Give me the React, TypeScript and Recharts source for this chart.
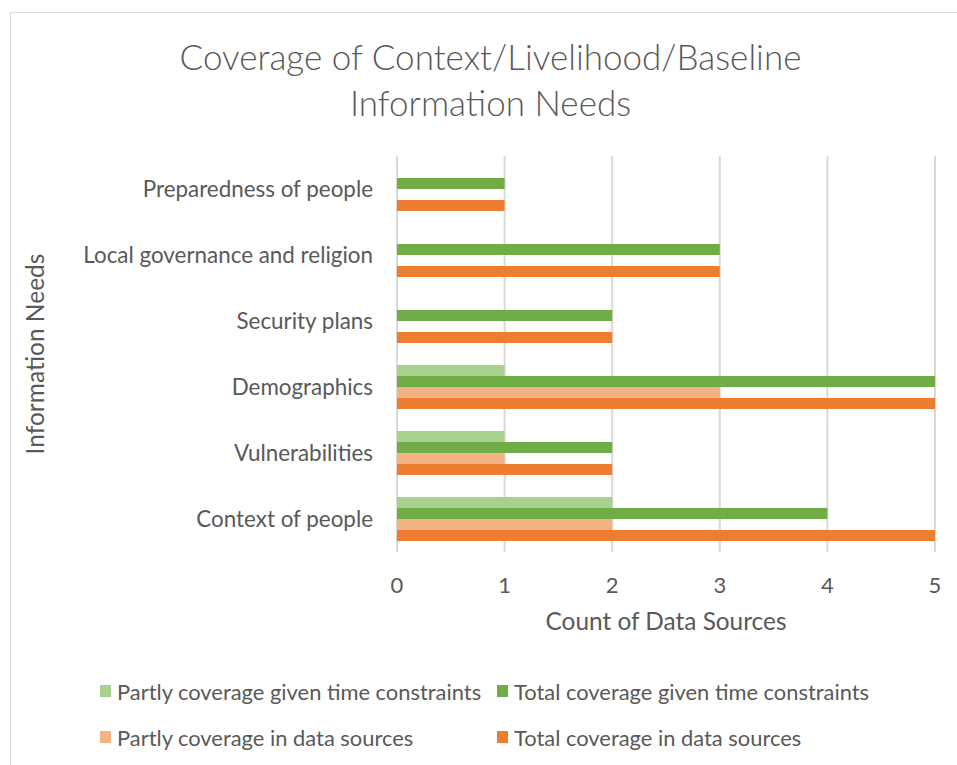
import { BarChart, Bar, XAxis, YAxis, CartesianGrid } from 'recharts';

// information needs, listed top to bottom
const needs = [
  'Preparedness of people',
  'Local governance and religion',
  'Security plans',
  'Demographics',
  'Vulnerabilities',
  'Context of people',
];

// count of data sources per need
const partlyTime = [0, 0, 0, 1, 1, 2];
const totalTime = [1, 3, 2, 5, 2, 4];
const partlySources = [0, 0, 0, 3, 1, 2];
const totalSources = [1, 3, 2, 5, 2, 5];

const countTicks = [0, 1, 2, 3, 4, 5];

const series = [
  { key: 'partlyTime', name: 'Partly coverage given time constraints', color: '#A9D18E' },
  { key: 'totalTime', name: 'Total coverage given time constraints', color: '#70AD47' },
  { key: 'partlySources', name: 'Partly coverage in data sources', color: '#F4B183' },
  { key: 'totalSources', name: 'Total coverage in data sources', color: '#ED7D31' },
];

const FONT = 'Lato, "Open Sans", sans-serif';
const TEXT = '#595959';

export default function App() {
  const data = needs.map((need, i) => ({
    need,
    partlyTime: partlyTime[i],
    totalTime: totalTime[i],
    partlySources: partlySources[i],
    totalSources: totalSources[i],
  }));

  return (
    <div
      style={{
        position: 'absolute',
        left: 0,
        top: 0,
        width: 957,
        height: 765,
        overflow: 'hidden',
        background: '#fff',
        fontFamily: FONT,
      }}
    >
      {/* chart frame, runs off the right and bottom edges */}
      <div
        style={{
          position: 'absolute',
          left: 10,
          top: 12,
          width: 1000,
          height: 800,
          border: '1.5px solid #D9D9D9',
        }}
      />

      <div
        style={{
          position: 'absolute',
          left: 0,
          top: 33,
          width: 981,
          textAlign: 'center',
          fontSize: 35,
          fontWeight: 300,
          lineHeight: '46px',
          color: TEXT,
        }}
      >
        Coverage of Context/Livelihood/Baseline
        <br />
        Information Needs
      </div>

      <div style={{ position: 'absolute', left: 0, top: 0 }}>
        <BarChart
          width={957}
          height={765}
          data={data}
          layout="vertical"
          margin={{ top: 156, right: 22, bottom: 123, left: 0 }}
          barCategoryGap={11}
          barGap={0}
        >
          <CartesianGrid horizontal={false} stroke="#D9D9D9" strokeWidth={2} />
          <XAxis
            type="number"
            domain={[0, 5]}
            ticks={countTicks}
            axisLine={false}
            tickLine={false}
            tickSize={0}
            tickMargin={25}
            height={90}
            tick={{ fill: TEXT, fontSize: 22, fontFamily: FONT }}
            label={{
              value: 'Count of Data Sources',
              position: 'insideBottom',
              offset: 12,
              style: { fill: TEXT, fontSize: 24.4, fontFamily: FONT },
            }}
          />
          <YAxis
            type="category"
            dataKey="need"
            width={397}
            axisLine={false}
            tickLine={false}
            tickSize={0}
            tickMargin={24}
            tick={{ fill: TEXT, fontSize: 22.4, fontFamily: FONT }}
            label={{
              value: 'Information Needs',
              angle: -90,
              position: 'insideLeft',
              offset: 35,
              style: { fill: TEXT, fontSize: 24.5, fontFamily: FONT, textAnchor: 'middle' },
            }}
          />
          {series.map((s) => (
            <Bar key={s.key} dataKey={s.key} name={s.name} fill={s.color} isAnimationActive={false} />
          ))}
        </BarChart>
      </div>

      {/* legend, two columns */}
      {series.map((s, i) => (
        <div
          key={s.key}
          style={{
            position: 'absolute',
            left: i % 2 === 0 ? 100 : 497,
            top: i < 2 ? 677 : 723,
            height: 28,
            display: 'flex',
            alignItems: 'center',
            fontSize: 21.9,
            color: TEXT,
            whiteSpace: 'nowrap',
          }}
        >
          <span style={{ display: 'inline-block', width: 11, height: 12, background: s.color, marginRight: 6 }} />
          {s.name}
        </div>
      ))}
    </div>
  );
}
